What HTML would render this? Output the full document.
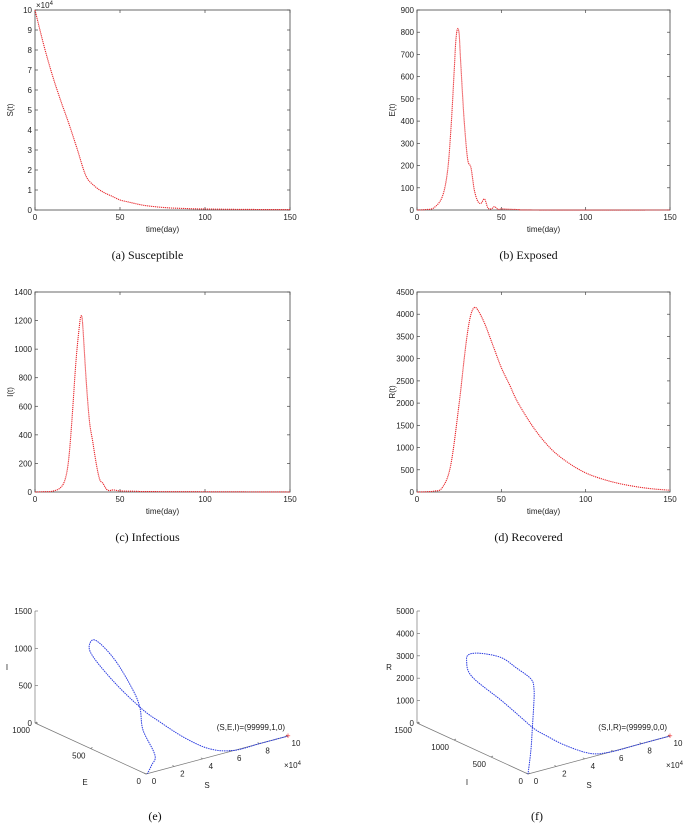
<!DOCTYPE html>
<html><head><meta charset="utf-8">
<style>
body{margin:0;background:#fff;}
svg{display:block;font-family:"Liberation Sans",sans-serif;}
.t{font-size:8px;fill:#222;}
.cap{font-family:"Liberation Serif",serif;font-size:12px;fill:#111;}
</style></head>
<body>
<svg id="fig" width="685" height="827" viewBox="0 0 685 827"></svg>
<script>
// ---- data ----
const sT=[0,5,10,15,20,25,30,35,40,45,50,55,60,65,70,75,80,90,100,120,150];
const sV=[10,8.3,6.8,5.5,4.3,3.0,1.7,1.2,0.9,0.7,0.5,0.4,0.3,0.22,0.17,0.13,0.1,0.07,0.05,0.03,0.02];
const eT=[0,5,10,15,18,20,22,23,24,25,26,28,30,32,34,36,38,40,42,44,46,48,50,55,60,70,150];
const eV=[0,2,10,60,170,350,620,760,815,790,650,400,230,190,90,40,30,50,10,5,15,3,5,3,2,0,0];
const iT=[0,5,10,15,18,20,22,24,26,27,28,30,32,34,36,38,40,42,44,46,50,60,70,150];
const iV=[0,2,5,30,100,250,550,900,1150,1230,1180,800,500,350,200,90,60,20,10,15,8,5,3,0];
const rT=[0,5,10,15,20,25,28,30,32,34,36,40,45,50,55,60,70,80,90,100,110,120,130,140,150];
const rV=[0,5,20,100,600,2000,3000,3600,4000,4150,4100,3800,3300,2800,2400,2000,1400,950,650,430,290,190,120,70,40];
const xTicks=[0,50,100,150];
const sTicks=[0,1,2,3,4,5,6,7,8,9,10];
const eTicks=[0,100,200,300,400,500,600,700,800,900];
const iTicks=[0,200,400,600,800,1000,1200,1400];
const rTicks=[0,500,1000,1500,2000,2500,3000,3500,4000,4500];
// 3D trajectory (e): S (x10^4), E, I
const tS1=[10,8,6.2,5,4,3.2,2.7,2.2,1.8,1.5,1.3,1.0,0.8,0.6,0.5,0.8,0.4,0.1];
const tE1=[0,0,0,63,160,283,381,560,717,696,608,407,220,131,91,22,0,0];
const tI1=[0,0,0,38,169,340,473,723,1012,1202,1299,1197,934,763,502,199,100,0];
// 3D trajectory (f): S, I, R
const tS2=[10,7.9,5.8,4.6,3.5,2.8,2.4,2.0,1.6,1.2,1.0,0.9,0.8,0.7,0.6,0.5,0.45,0.4,0.3,0.2,0];
const tI2=[0,0,0,37,160,295,380,477,668,993,1021,962,782,495,276,56,5,0,0,0,0];
const tR2=[0,0,0,80,430,795,1045,1460,2000,2656,3360,3737,4060,4325,4223,4070,3700,2970,1960,990,0];
const zTicks1=[0,500,1000,1500];
const zTicks2=[0,1000,2000,3000,4000,5000];
const sTicks3=[0,2,4,6,8,10];

const NS="http://www.w3.org/2000/svg";
const svg=document.getElementById('fig');
function el(tag,attrs,parent,txt){const e=document.createElementNS(NS,tag);for(const k in attrs)e.setAttribute(k,attrs[k]);if(txt!==undefined)e.textContent=txt;(parent||svg).appendChild(e);return e;}
function smooth(pts){let d='M'+pts[0][0].toFixed(1)+','+pts[0][1].toFixed(1);
  for(let i=0;i<pts.length-1;i++){const p0=pts[Math.max(0,i-1)],p1=pts[i],p2=pts[i+1],p3=pts[Math.min(pts.length-1,i+2)];
  const c1=[p1[0]+(p2[0]-p0[0])/6,p1[1]+(p2[1]-p0[1])/6],c2=[p2[0]-(p3[0]-p1[0])/6,p2[1]-(p3[1]-p1[1])/6];
  d+=' C'+c1[0].toFixed(1)+','+c1[1].toFixed(1)+' '+c2[0].toFixed(1)+','+c2[1].toFixed(1)+' '+p2[0].toFixed(1)+','+p2[1].toFixed(1);}return d;}

function panel(name,L,T,R,B,ymax,yt,ylab,xs,ys,cap,capY,exp){
  const g=el('g',{});
  
  
  const X=v=>L+(R-L)*v/150, Y=v=>B-(B-T)*v/ymax;
  const box=el('rect',{x:L,y:T,width:R-L,height:B-T,fill:'none',stroke:'#444','stroke-width':0.8},g);
  
  xTicks.forEach(v=>{el('line',{x1:X(v),x2:X(v),y1:B,y2:B-3,stroke:'#444','stroke-width':0.7},g);el('line',{x1:X(v),x2:X(v),y1:T,y2:T+3,stroke:'#444','stroke-width':0.7},g);
    const t=el('text',{x:X(v),y:B+10,'text-anchor':'middle',class:'t'},g,v);});
  yt.forEach(v=>{el('line',{x1:L,x2:L+3,y1:Y(v),y2:Y(v),stroke:'#444','stroke-width':0.7},g);el('line',{x1:R,x2:R-3,y1:Y(v),y2:Y(v),stroke:'#444','stroke-width':0.7},g);
    const t=el('text',{x:L-3,y:Y(v)+3,'text-anchor':'end',class:'t'},g,v);});
  if(exp){const t=el('text',{x:L+1,y:T-2,class:'t'},g);t.innerHTML='×10<tspan dy="-3" font-size="6">4</tspan>';}
  const xl=el('text',{x:(L+R)/2,y:B+22,'text-anchor':'middle',class:'t'},g,'time(day)');
  const yl=el('text',{x:0,y:0,'text-anchor':'middle',class:'t',transform:`translate(${L-22},${(T+B)/2}) rotate(-90)`},g,ylab);
  const p=el('path',{d:smooth(xs.map((v,i)=>[X(v),Y(ys[i])])),fill:'none',stroke:'#e8262b','stroke-width':1.1,'stroke-dasharray':'1.2 0.8'},g);
  
  const c=el('text',{x:(L+R)/2-15,y:capY,'text-anchor':'middle',class:'cap'},g,cap);
}
panel('panel-susceptible',35,10,290,210,10,sTicks,'S(t)',sT,sV,'(a)  Susceptible',259,true);
panel('panel-exposed',417,10,670,210,900,eTicks,'E(t)',eT,eV,'(b)  Exposed',259,false);
panel('panel-infectious',35,292,290,492,1400,iTicks,'I(t)',iT,iV,'(c)  Infectious',541,false);
panel('panel-recovered',417,292,670,492,4500,rTicks,'R(t)',rT,rV,'(d)  Recovered',541,false);

function panel3d(name,ox,zmax,zt,ymax,ytk,ylab,zlab,xs,ys,zs,label,cap){
  const g=el('g',{});
  
  
  const oy=774;
  const P=(s,y,z)=>[ox+14.2*s-111*y/ymax, oy-3.8*s-51*y/ymax-112*z/zmax];
  const ln=(a,b)=>el('line',{x1:a[0],y1:a[1],x2:b[0],y2:b[1],stroke:'#777','stroke-width':0.7},g);
  ln(P(0,0,0),P(10,0,0));ln(P(0,0,0),P(0,ymax,0));ln(P(0,ymax,0),P(0,ymax,zmax));
  sTicks3.forEach(v=>{const a=P(v,0,0);el('line',{x1:a[0],y1:a[1],x2:a[0]-2,y2:a[1]-1,stroke:'#777','stroke-width':0.7},g);
    const t=el('text',{x:a[0]+8,y:a[1]+10,'text-anchor':'middle',class:'t'},g,v);});
  ytk.forEach(v=>{const a=P(0,v,0);el('line',{x1:a[0],y1:a[1],x2:a[0]+2,y2:a[1]-1,stroke:'#777','stroke-width':0.7},g);
    const t=el('text',{x:a[0]-5,y:a[1]+10,'text-anchor':'end',class:'t'},g,v);});
  zt.forEach(v=>{const a=P(0,ymax,v);el('line',{x1:a[0],y1:a[1],x2:a[0]+3,y2:a[1],stroke:'#777','stroke-width':0.7},g);
    const t=el('text',{x:a[0]-3,y:a[1]+3,'text-anchor':'end',class:'t'},g,v);});
  const e=el('text',{x:ox+138,y:oy-6,class:'t'},g);e.innerHTML='×10<tspan dy="-3" font-size="6">4</tspan>';
  const sl=el('text',{x:ox+61,y:oy+14,'text-anchor':'middle',class:'t'},g,'S');
  const yl=el('text',{x:ox-61,y:oy+11,'text-anchor':'middle',class:'t'},g,ylab);
  const zl=el('text',{x:ox-139,y:670,'text-anchor':'middle',class:'t'},g,zlab);
  const p=el('path',{d:smooth(xs.map((v,i)=>P(v,ys[i],zs[i]))),fill:'none',stroke:'#2a3be0','stroke-width':1,'stroke-dasharray':'1.5 0.8'},g);
  
  const st=P(xs[0],ys[0],zs[0]);
  const m=el('text',{x:st[0],y:st[1]+3,'text-anchor':'middle','font-size':'9px',fill:'#e33'},g,'+');
  const lb=el('text',{x:st[0]-3,y:st[1]-6,'text-anchor':'end',class:'t'},g,label);
  const c=el('text',{x:ox+9,y:820,'text-anchor':'middle',class:'cap'},g,cap);
}
panel3d('panel-sei-phase',146,1500,zTicks1,1000,[0,500,1000],'E','I',tS1,tE1,tI1,'(S,E,I)=(99999,1,0)','(e)');
panel3d('panel-sir-phase',528,5000,zTicks2,1500,[0,500,1000,1500],'I','R',tS2,tI2,tR2,'(S,I,R)=(99999,0,0)','(f)');
</script>
</body></html>
